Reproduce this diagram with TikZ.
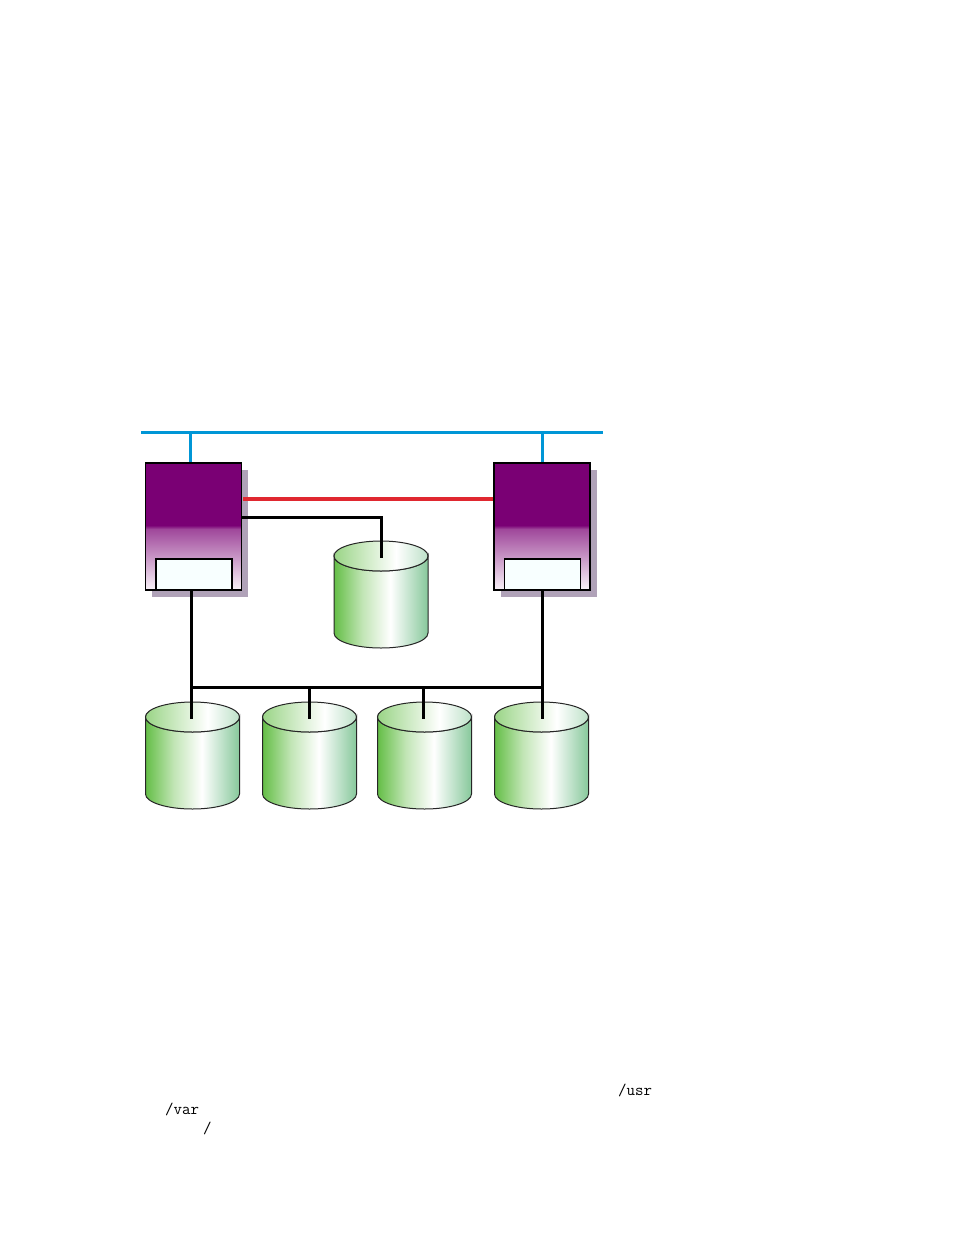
\documentclass[tikz,border=0pt]{standalone}
\usetikzlibrary{shadows}
\definecolor{srvp}{RGB}{122,0,116}
\definecolor{shadowc}{RGB}{176,162,184}
\definecolor{netblue}{RGB}{0,150,214}
\definecolor{hbred}{RGB}{224,40,48}
\definecolor{boxfill}{RGB}{248,255,255}
\definecolor{cgA}{RGB}{100,190,70}
\definecolor{cgB}{RGB}{135,200,155}
\pgfdeclareverticalshading{srvshade}{100bp}{color(0bp)=(srvp!5!white); color(25bp)=(srvp!5!white); color(49bp)=(srvp!72!white); color(50.5bp)=(srvp); color(75bp)=(srvp); color(100bp)=(srvp)}
\pgfdeclarehorizontalshading{cylbody}{100bp}{color(0bp)=(cgA); color(25bp)=(cgA); color(40bp)=(cgA!40!white); color(55bp)=(white); color(75bp)=(cgB); color(100bp)=(cgB)}
\pgfdeclarehorizontalshading{cyltop}{100bp}{color(0bp)=(cgA!65!white); color(25bp)=(cgA!65!white); color(58bp)=(white); color(75bp)=(cgB!55!white); color(100bp)=(cgB!55!white)}
\newcommand\drawdisk[2]{%
  \shadedraw[shading=cylbody, draw=black!85, line width=1pt]
    (#1-47,#2) -- (#1-47,#2+77) arc[start angle=180, end angle=0, x radius=47, y radius=15]
    -- (#1+47,#2) arc[start angle=0, end angle=180, x radius=47, y radius=15] -- cycle;
  \shadedraw[shading=cyltop, draw=black!85, line width=1pt]
    (#1,#2) ellipse[x radius=47, y radius=15];
}
\tikzset{
  srvbox/.style={draw=black, line width=1.5pt, minimum width=96pt, minimum height=127pt, inner sep=0pt,
    shading=srvshade, general shadow={fill=shadowc, draw=none, shadow xshift=6.5pt, shadow yshift=-6.5pt}},
  innerbox/.style={draw=black, line width=1.4pt, fill=boxfill, minimum width=76pt, minimum height=31pt, inner sep=0pt},
  netline/.style={draw=netblue, line width=3pt},
  hbline/.style={draw=hbred, line width=3.4pt},
  dataline/.style={draw=black, line width=3pt},
  label/.style={anchor=base west, inner sep=0pt, font=\ttfamily\fontsize{16.5}{19}\selectfont}
}
\begin{document}
\begin{tikzpicture}[x=1pt, y=-1pt]
\useasboundingbox[fill=white] (0,0) rectangle (954,1235);
% disks
\drawdisk{381}{556}
\drawdisk{192.5}{717}
\drawdisk{309.5}{717}
\drawdisk{424.5}{717}
\drawdisk{541.5}{717}
% servers
\node[srvbox] (srvL) at (193.5,526.5) {};
\node[srvbox] (srvR) at (542,526.5) {};
\node[innerbox] (inL) at (194,574.5) {};
\node[innerbox] (inR) at (542.5,574.5) {};
% coordinates
\coordinate (netL) at (141,432);
\coordinate (netR) at (603,432);
\coordinate (tapL) at (190,432);
\coordinate (tapR) at (542,432);
\coordinate (hbL) at (243,499);
\coordinate (qy) at (0,517.5);
\coordinate (qdtop) at (381,557.5);
\coordinate (b1) at (191,687);
\coordinate (b2) at (309,687);
\coordinate (b3) at (423,687);
\coordinate (b4) at (542,687);
\coordinate (d1top) at (191,719);
\coordinate (d2top) at (309,719);
\coordinate (d3top) at (423,719);
\coordinate (d4top) at (542,719);
% network
\draw[netline] (netL) -- (netR);
\draw[netline] (tapL) -- (tapL |- srvL.north);
\draw[netline] (tapR) -- (tapR |- srvR.north);
% heartbeat
\draw[hbline] (hbL) -- (hbL -| srvR.west);
% quorum disk link
\draw[dataline] (srvL.east |- qy) -| (qdtop);
% shared bus
\draw[dataline] (b1) -- (b4);
\draw[dataline] (srvL.south -| b1) -- (d1top);
\draw[dataline] (b2) -- (d2top);
\draw[dataline] (b3) -- (d3top);
\draw[dataline] (srvR.south -| b4) -- (d4top);
% text fragments
\node[label] (tusr) at (618,1095) {/usr};
\node[label] (tvar) at (165,1114) {/var};
\node[label] (troot) at (203,1133) {/};
\end{tikzpicture}
\end{document}
